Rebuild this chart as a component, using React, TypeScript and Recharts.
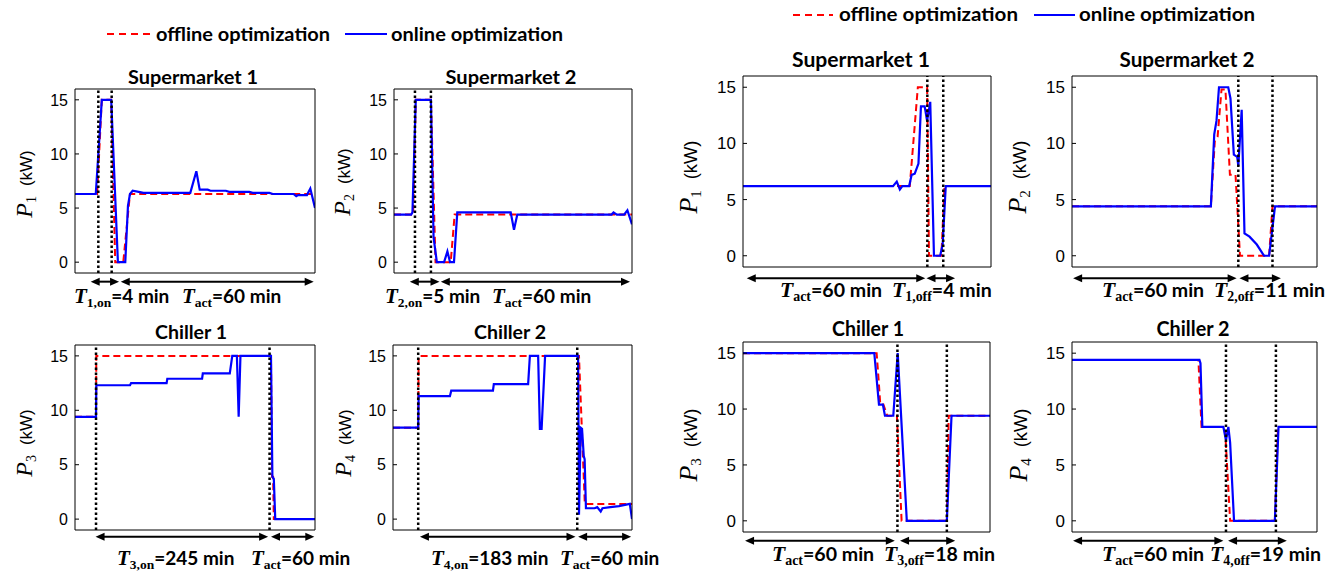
import React from 'react';
import { LineChart, Line, XAxis, YAxis, ReferenceLine } from 'recharts';

type Pt = { t: number; p: number };
const mk = (arr: number[][]): Pt[] => arr.map(([t, p]) => ({ t, p }));

// ---------- data (t in tick-units: 10 = one x tick interval, p in kW) ----------
const onlineSM1L = [[0,6.3],[3.1,6.3],[4.0,15],[5.4,15],[6.4,0],[7.5,0],[7.9,5.2],[8.2,6.3],[8.6,6.6],[9.5,6.5],[10.2,6.4],[17.2,6.4],[18.1,8.4],[18.6,6.7],[19.8,6.7],[20.2,6.6],[22.5,6.6],[23,6.5],[26,6.5],[26.5,6.4],[29,6.4],[29.5,6.3],[32.6,6.3],[33,6.1],[33.3,6.2],[34.6,6.2],[35.1,6.8],[35.8,5.0]];
const offlineSM1L = [[0,6.3],[3.3,6.3],[4.0,15],[5.4,15],[6.0,0],[7.2,0],[8.2,6.3],[35.8,6.3]];
const onlineSM2L = [[0,4.4],[2.6,4.4],[2.8,4.6],[3.3,15],[5.6,15],[6.0,2.3],[6.5,0],[7.6,0],[8.1,1.0],[8.5,0],[9.1,0],[9.6,4.6],[17.7,4.6],[18.2,3.0],[18.7,4.4],[33.0,4.4],[33.3,4.6],[33.8,4.4],[34.9,4.4],[35.4,4.8],[36.1,3.5]];
const offlineSM2L = [[0,4.4],[2.9,4.4],[3.3,15],[5.6,15],[6.3,0],[8.6,0],[9.2,4.4],[36.1,4.4]];
const onlineCH1L = [[0,9.4],[2.96,9.4],[3.0,12.3],[7.75,12.3],[7.9,12.5],[12.9,12.5],[13.0,12.9],[17.9,12.9],[18.0,13.4],[21.8,13.4],[22.15,15],[22.8,15],[23.05,9.4],[23.3,15],[27.6,15],[27.8,3.9],[28.0,3.7],[28.2,0],[33.8,0]];
const offlineCH1L = [[0,9.4],[2.96,9.4],[3.0,15],[27.6,15],[27.75,3.9],[27.9,3.9],[28.0,0],[33.8,0]];
const onlineCH2L = [[0,8.4],[2.9,8.4],[2.95,11.3],[6.55,11.3],[6.7,11.8],[11.5,11.8],[11.6,12.4],[15.55,12.4],[15.75,15],[16.7,15],[16.9,8.3],[17.1,8.3],[17.5,15],[21.3,15],[21.4,0.4],[21.6,8.4],[21.75,8.3],[21.95,5.8],[22.05,5.5],[22.2,1.0],[23.2,1.0],[23.5,1.1],[23.9,0.7],[24.1,1.0],[25,1.1],[26,1.2],[27.25,1.4],[27.5,0]];
const offlineCH2L = [[0,8.4],[2.9,8.4],[2.95,15],[21.4,15],[22.07,1.4],[27.5,1.4]];

const onlineSM1R = [[0,6.2],[24.2,6.2],[24.8,6.6],[25.3,5.9],[25.7,6.2],[26.8,6.2],[27.2,7.2],[27.7,7.3],[28.3,8.2],[28.7,13.3],[29.3,13.3],[29.7,12.0],[30.2,13.7],[30.8,0],[31.8,0],[32.2,1.0],[32.7,6.2],[40,6.2]];
const offlineSM1R = [[0,6.2],[26.9,6.2],[28.2,15],[29.7,15],[30.0,0],[32.0,0],[32.5,6.2],[40,6.2]];
const onlineSM2R = [[0,4.4],[24.8,4.4],[25.4,10.8],[25.8,12.0],[26.25,15],[27.9,15],[28.3,14],[28.9,9.0],[29.5,8.8],[29.7,8.0],[30.3,13.0],[30.8,2.0],[31.7,1.7],[33.0,1.0],[34.3,0],[35.2,0],[36.25,4.4],[43.75,4.4]];
const offlineSM2R = [[0,4.4],[24.8,4.4],[25.5,10.2],[26.0,10.6],[26.7,14.8],[27.4,14.8],[28.2,7.2],[29.2,7.2],[30.0,0],[35.2,0],[35.8,4.4],[43.75,4.4]];
const onlineCH1R = [[0,15],[25.25,15],[26.15,10.4],[26.9,10.4],[27.3,9.4],[28.9,9.4],[29.75,15],[31.5,0],[39.2,0],[40.1,9.4],[47.5,9.4]];
const offlineCH1R = [[0,15],[25.7,15],[26.1,12.5],[26.4,10.4],[27.0,10.4],[27.75,9.4],[29.6,9.4],[30.5,0],[39.2,0],[39.55,9.4],[47.5,9.4]];
const onlineCH2R = [[0,14.4],[24.5,14.4],[24.7,14.1],[25.06,8.4],[29.1,8.4],[29.6,7.2],[30.06,8.4],[30.4,7.0],[31.15,0],[39.0,0],[39.7,8.4],[47.1,8.4]];
const offlineCH2R = [[0,14.4],[24.3,14.4],[24.9,8.4],[29.4,8.4],[30.4,0],[39.0,0],[39.6,8.4],[47.1,8.4]];

// dotted markers and interval arrows (in t units)
const dotsSM1L = [3.48, 5.47];
const dotsSM2L = [3.18, 5.6];
const dotsCH1L = [2.96, 27.4];
const dotsCH2L = [2.9, 21.2];
const dotsSM1R = [29.73, 32.3];
const dotsSM2R = [29.7, 35.8];
const dotsCH1R = [29.7, 39.2];
const dotsCH2R = [29.6, 39.2];

const arrowsSM1L = [[2.34, 6.57], [6.82, 35.6]];
const arrowsSM2L = [[2.4, 6.9], [7.1, 35.8]];
const arrowsCH1L = [[2.9, 27.2], [27.6, 33.7]];
const arrowsCH2L = [[3.1, 21.0], [21.3, 27.4]];
const arrowsSM1R = [[0.6, 29.4], [29.6, 34.2]];
const arrowsSM2R = [[0.2, 29.4], [29.9, 37.3]];
const arrowsCH1R = [[0.4, 29.2], [30.2, 40.8]];
const arrowsCH2R = [[0.2, 29.1], [30.0, 41.3]];

const yTicks = [0, 5, 10, 15];

const ML = 50, MR = 10, MT = 10, MB = 32;

const panels = [
  { left: 75, top: 89, w: 240, h: 184, xMax: 35.8, xTicks: [0,10,20,30], on: onlineSM1L, off: offlineSM1L, dots: dotsSM1L, arrows: arrowsSM1L, ay: -1.8, fs: 16 },
  { left: 394, top: 89, w: 238, h: 184, xMax: 36.1, xTicks: [0,10,20,30], on: onlineSM2L, off: offlineSM2L, dots: dotsSM2L, arrows: arrowsSM2L, ay: -1.8, fs: 16 },
  { left: 75, top: 345, w: 240, h: 185, xMax: 33.8, xTicks: [0,10,20,30], on: onlineCH1L, off: offlineCH1L, dots: dotsCH1L, arrows: arrowsCH1L, ay: -1.62, fs: 16 },
  { left: 393, top: 345, w: 239, h: 185, xMax: 27.5, xTicks: [0,10,20], on: onlineCH2L, off: offlineCH2L, dots: dotsCH2L, arrows: arrowsCH2L, ay: -1.62, fs: 16 },
  { left: 743, top: 76, w: 248, h: 191, xMax: 40, xTicks: [0,10,20,30], on: onlineSM1R, off: offlineSM1R, dots: dotsSM1R, arrows: arrowsSM1R, ay: -2.0, fs: 17 },
  { left: 1072, top: 76, w: 245, h: 191, xMax: 43.75, xTicks: [0,10,20,30,40], on: onlineSM2R, off: offlineSM2R, dots: dotsSM2R, arrows: arrowsSM2R, ay: -2.0, fs: 17 },
  { left: 743, top: 342, w: 247, h: 190, xMax: 47.5, xTicks: [0,10,20,30,40], on: onlineCH1R, off: offlineCH1R, dots: dotsCH1R, arrows: arrowsCH1R, ay: -1.78, fs: 17 },
  { left: 1072, top: 342, w: 245, h: 190, xMax: 47.1, xTicks: [0,10,20,30,40], on: onlineCH2R, off: offlineCH2R, dots: dotsCH2R, arrows: arrowsCH2R, ay: -1.78, fs: 17 },
];

const titles = [
  { cx: 193, y: 84, text: 'Supermarket 1', w: 130, fs: 19 },
  { cx: 511, y: 84, text: 'Supermarket 2', w: 131, fs: 19 },
  { cx: 191, y: 339, text: 'Chiller 1', w: 72, fs: 19 },
  { cx: 510, y: 339, text: 'Chiller 2', w: 72, fs: 19 },
  { cx: 861, y: 67, text: 'Supermarket 1', w: 138, fs: 20 },
  { cx: 1187, y: 67, text: 'Supermarket 2', w: 135, fs: 20 },
  { cx: 868, y: 336, text: 'Chiller 1', w: 72, fs: 20 },
  { cx: 1193, y: 336, text: 'Chiller 2', w: 73, fs: 20 },
];

const yLabels = [
  { x: 32, y: 184, idx: '1', s: 1 },
  { x: 350, y: 182, idx: '2', s: 1 },
  { x: 32, y: 443, idx: '3', s: 1 },
  { x: 351, y: 443, idx: '4', s: 1 },
  { x: 697, y: 177, idx: '1', s: 1.08 },
  { x: 1026, y: 177, idx: '2', s: 1.08 },
  { x: 697, y: 445, idx: '3', s: 1.08 },
  { x: 1027, y: 445, idx: '4', s: 1.08 },
];

const bottomLabels = [
  { x: 74, y: 303, sub: '1,on', rest: '=4 min', s: 1 },
  { x: 182, y: 303, sub: 'act', rest: '=60 min', s: 1 },
  { x: 385, y: 303, sub: '2,on', rest: '=5 min', s: 1 },
  { x: 492, y: 303, sub: 'act', rest: '=60 min', s: 1 },
  { x: 117, y: 565, sub: '3,on', rest: '=245 min', s: 1 },
  { x: 251, y: 565, sub: 'act', rest: '=60 min', s: 1 },
  { x: 431, y: 565, sub: '4,on', rest: '=183 min', s: 1 },
  { x: 560, y: 565, sub: 'act', rest: '=60 min', s: 1 },
  { x: 780, y: 297, sub: 'act', rest: '=60 min', s: 1.03 },
  { x: 892, y: 297, sub: '1,off', rest: '=4 min', s: 1.03 },
  { x: 1102, y: 297, sub: 'act', rest: '=60 min', s: 1.03 },
  { x: 1214, y: 297, sub: '2,off', rest: '=11 min', s: 1.03 },
  { x: 772, y: 561, sub: 'act', rest: '=60 min', s: 1.03 },
  { x: 884, y: 561, sub: '3,off', rest: '=18 min', s: 1.03 },
  { x: 1102, y: 561, sub: 'act', rest: '=60 min', s: 1.03 },
  { x: 1210, y: 561, sub: '4,off', rest: '=19 min', s: 1.03 },
];

const legends = [
  { lx1: 107, lx2: 150, ly: 34, tx: 156, ty: 41, tw: 174, text: 'offline optimization', color: '#ff0000', dash: '7 5' },
  { lx1: 345, lx2: 387, ly: 34, tx: 391, ty: 41, tw: 172, text: 'online optimization', color: '#0000ff', dash: undefined },
  { lx1: 793, lx2: 833, ly: 15, tx: 839, ty: 21, tw: 179, text: 'offline optimization', color: '#ff0000', dash: '7 5' },
  { lx1: 1034, lx2: 1075, ly: 15, tx: 1079, ty: 21, tw: 176, text: 'online optimization', color: '#0000ff', dash: undefined },
];

const SANS = 'Lato, "Open Sans", sans-serif';
const SERIF = '"Liberation Serif", "Times New Roman", serif';
const ARIAL = '"Liberation Sans", Arial, sans-serif';

const ArrowShape = (props: any) => {
  const { x1, y1, x2, y2 } = props;
  const hl = 9, hw = 4;
  const a = Math.min(x1, x2), b = Math.max(x1, x2);
  return (
    <g>
      <line x1={a + hl - 1} y1={y1} x2={b - hl + 1} y2={y2} stroke="#000" strokeWidth={2} />
      <polygon points={`${a},${y1} ${a + hl},${y1 - hw} ${a + hl},${y1 + hw}`} fill="#000" />
      <polygon points={`${b},${y2} ${b - hl},${y2 - hw} ${b - hl},${y2 + hw}`} fill="#000" />
    </g>
  );
};

function Panel({ cfg }: { cfg: any }) {
  const { left, top, w, h, xMax, xTicks, on, off, dots, arrows, ay, fs } = cfg;
  return (
    <div style={{ position: 'absolute', left: left - ML, top: top - MT }}>
      <LineChart width={w + ML + MR} height={h + MT + MB} margin={{ top: 0, right: 0, bottom: 0, left: 0 }}>
        <XAxis xAxisId="b" dataKey="t" type="number" domain={[0, xMax]} ticks={xTicks} interval={0}
          tick={false} tickSize={-4} height={MB} stroke="#000" allowDataOverflow />
        <XAxis xAxisId="t" orientation="top" dataKey="t" type="number" domain={[0, xMax]} ticks={xTicks} interval={0}
          tick={false} tickSize={-4} height={MT} stroke="#000" allowDataOverflow />
        <YAxis yAxisId="l" type="number" domain={[-1, 16]} ticks={yTicks} interval={0} width={ML}
          tickSize={-4} tickMargin={11} stroke="#000" allowDataOverflow
          tick={{ fontSize: fs, fill: '#000', fontFamily: ARIAL }} />
        <YAxis yAxisId="r" orientation="right" type="number" domain={[-1, 16]} ticks={yTicks} interval={0} width={MR}
          tickSize={-4} tick={false} stroke="#000" allowDataOverflow />
        <Line xAxisId="b" yAxisId="l" data={mk(off)} dataKey="p" type="linear" stroke="#ff0000" strokeWidth={2}
          strokeDasharray="7 4" dot={false} activeDot={false} isAnimationActive={false} />
        <Line xAxisId="b" yAxisId="l" data={mk(on)} dataKey="p" type="linear" stroke="#0000ff" strokeWidth={2.2}
          dot={false} activeDot={false} isAnimationActive={false} />
        {dots.map((d: number, i: number) => (
          <ReferenceLine key={'d' + i} xAxisId="b" yAxisId="l" x={d} stroke="#000" strokeWidth={2.5}
            strokeDasharray="2.5 2.5" ifOverflow="visible" />
        ))}
        {arrows.map((a: number[], i: number) => (
          <ReferenceLine key={'a' + i} xAxisId="b" yAxisId="l" ifOverflow="visible"
            segment={[{ x: a[0], y: ay }, { x: a[1], y: ay }]} shape={ArrowShape} />
        ))}
      </LineChart>
    </div>
  );
}

export default function App() {
  return (
    <div style={{ position: 'absolute', left: 0, top: 0, width: 1343, height: 574, background: '#fff', overflow: 'hidden' }}>
      {panels.map((p, i) => <Panel key={i} cfg={p} />)}
      <svg width={1343} height={574} style={{ position: 'absolute', left: 0, top: 0, pointerEvents: 'none' }}>
        {legends.map((l, i) => (
          <g key={'lg' + i}>
            <line x1={l.lx1} x2={l.lx2} y1={l.ly} y2={l.ly} stroke={l.color} strokeWidth={2} strokeDasharray={l.dash} />
            <text x={l.tx} y={l.ty} fontFamily={SANS} fontWeight={700} fontSize={18.5} fill="#000"
              textLength={l.tw} lengthAdjust="spacingAndGlyphs">{l.text}</text>
          </g>
        ))}
        {titles.map((t, i) => (
          <text key={'t' + i} x={t.cx} y={t.y} textAnchor="middle" fontFamily={SANS} fontWeight={700}
            fontSize={t.fs} fill="#000" textLength={t.w} lengthAdjust="spacingAndGlyphs">{t.text}</text>
        ))}
        {yLabels.map((l, i) => (
          <text key={'y' + i} x={l.x} y={l.y} textAnchor="middle" transform={`rotate(-90 ${l.x} ${l.y})`} fill="#000">
            <tspan fontFamily={SERIF} fontStyle="italic" fontSize={24 * l.s}>P</tspan>
            <tspan fontFamily={SERIF} fontSize={14 * l.s} dy={4 * l.s}>{l.idx}</tspan>
            <tspan fontFamily={ARIAL} fontSize={17 * l.s} dy={-4 * l.s} dx={10 * l.s}>(kW)</tspan>
          </text>
        ))}
        {bottomLabels.map((b, i) => (
          <text key={'b' + i} x={b.x} y={b.y} fill="#000">
            <tspan fontFamily={SERIF} fontStyle="italic" fontWeight={700} fontSize={21 * b.s}>T</tspan>
            <tspan fontFamily={SERIF} fontWeight={700} fontSize={13.5 * b.s} dy={4}>{b.sub}</tspan>
            <tspan fontFamily={SANS} fontWeight={700} fontSize={19 * b.s} dy={-4}>{b.rest}</tspan>
          </text>
        ))}
      </svg>
    </div>
  );
}
